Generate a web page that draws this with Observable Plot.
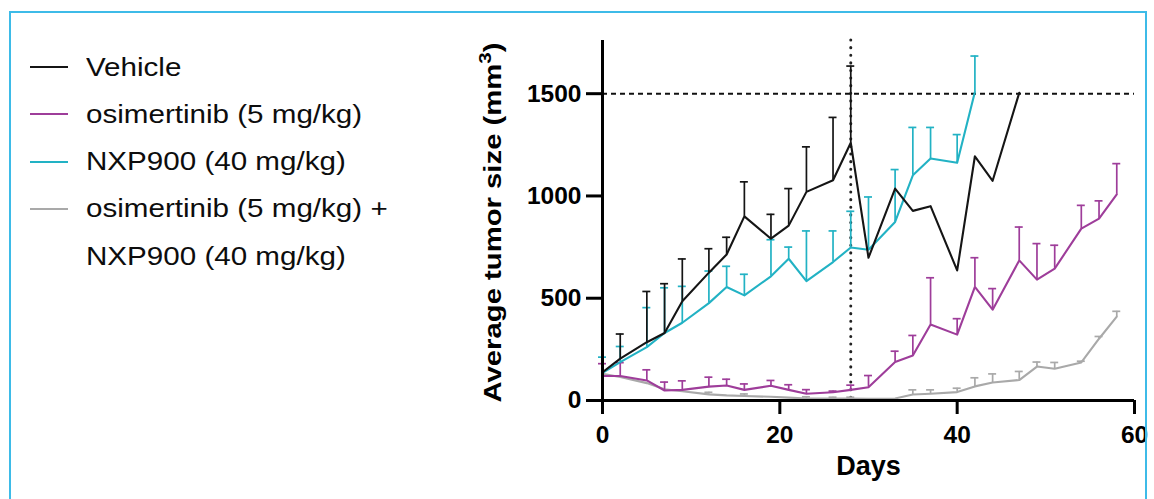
<!DOCTYPE html>
<html>
<head>
<meta charset="utf-8">
<script src="https://cdn.jsdelivr.net/npm/d3@7"></script>
<script src="https://cdn.jsdelivr.net/npm/@observablehq/plot@0.6"></script>
<style>
  html, body { margin: 0; padding: 0; background: #fff; }
  #wrap { position: relative; width: 1154px; height: 499px; overflow: hidden; background: #fff; }
  #chart { position: absolute; left: 0; top: 0; }
  #frame { position: absolute; left: 9px; top: 11px; width: 1138px; height: 520px; border: 2px solid #3dbbe8; box-sizing: border-box; pointer-events: none; }
  .row { position: absolute; left: 30px; height: 30px; display: flex; align-items: center; font-family: Arial, "Liberation Sans", sans-serif; font-size: 25.5px; color: #0d0d0d; white-space: nowrap; }
  .sw { width: 38px; height: 2px; margin-right: 18px; flex: none; }
  .lbl { display: inline-block; transform: scaleX(1.16); transform-origin: left center; }
</style>
</head>
<body>
<div id="wrap">
  <div id="chart"></div>
  <div id="legend"></div>
  <div id="frame"></div>
</div>
<script>
// ---- data ----
const days = [0, 2, 5, 7, 9, 12, 14, 16, 19, 21, 23, 26, 28, 30, 33, 35, 37, 40, 42, 44, 47, 49, 51, 54, 56, 58];

const seriesNames = ["Vehicle", "osimertinib (5 mg/kg)", "NXP900 (40 mg/kg)", "osimertinib (5 mg/kg) + NXP900 (40 mg/kg)"];
const seriesColors = ["#151515", "#9e3d9a", "#22b2c4", "#a9a9a9"];

const vehicleMean = [138, 205, 285, 330, 485, 625, 714, 900, 791, 855, 1020, 1077, 1260, 698, 1036, 927, 950, 636, 1194, 1074, 1504, null, null, null, null, null];
const vehicleTop  = [null, 325, 533, 571, 692, 742, 798, 1069, 910, 1036, 1240, 1384, 1635, null, null, null, null, null, null, null, null, null, null, null, null, null];

const osiMean = [120, 120, 98, 49, 52, 68, 73, 52, 72, 52, 33, 40, 52, 65, 188, 220, 372, 322, 555, 444, 685, 591, 645, 840, 889, 1008];
const osiTop  = [180, 185, 150, 90, 96, 114, 104, 81, 98, 77, 53, 46, 75, 122, 241, 318, 600, 400, 698, 547, 848, 767, 759, 954, 976, 1158];

const nxpMean = [135, 188, 261, 330, 380, 476, 555, 514, 607, 693, 584, 677, 748, 737, 873, 1101, 1183, 1162, 1508, null, null, null, null, null, null, null];
const nxpTop  = [212, 264, 454, 551, 558, 633, 656, 617, 786, 750, 829, 829, 925, 995, 1129, 1335, 1335, 1300, 1684, null, null, null, null, null, null, null];

const comboMean = [130, 115, 85, 55, 45, 30, 25, 22, 18, 14, 10, 10, 10, 8, 10, 29, 33, 41, 69, 88, 100, 166, 155, 186, 302, 410];
const comboTop  = [null, null, null, null, null, 40, null, 32, null, null, 18, 16, 16, null, null, 52, 52, 60, 111, 130, 142, 188, 186, 192, 313, 436];

const xTicks = [0, 20, 40, 60];
const yTicks = [0, 500, 1000, 1500];
const thresholdY = [1500];
const switchDay = [28];
const yLabel = "Average tumor size (mm³)";
const yLabelParts = ["Average tumor size (mm", "3", ")"];
const xLabel = "Days";

// ---- build table ----
const means = [vehicleMean, osiMean, nxpMean, comboMean];
const tops = [vehicleTop, osiTop, nxpTop, comboTop];
const rows = [];
seriesNames.forEach((s, i) => {
  days.forEach((d, j) => {
    if (means[i][j] != null) rows.push({series: s, day: d, mean: means[i][j], top: tops[i][j]});
  });
});
const drawOrder = [3, 1, 2, 0]; // combo, osi, nxp, vehicle on top
const marks = [];
marks.push(Plot.ruleY(thresholdY, {stroke: "#111", strokeWidth: 2, strokeDasharray: "5,4"}));
marks.push(Plot.ruleX(switchDay, {stroke: "#222", strokeWidth: 3, strokeDasharray: "0.1,7.5", strokeLinecap: "round"}));
for (const i of drawOrder) {
  const s = seriesNames[i];
  const data = rows.filter(r => r.series === s);
  const err = data.filter(r => r.top != null);
  marks.push(Plot.ruleX(err, {x: "day", y1: "mean", y2: "top", stroke: seriesColors[i], strokeWidth: 1.7}));
  marks.push(Plot.ruleY(err, {y: "top", x1: d => d.day - 0.45, x2: d => d.day + 0.45, stroke: seriesColors[i], strokeWidth: 1.7}));
  marks.push(Plot.line(data, {x: "day", y: "mean", stroke: seriesColors[i], strokeWidth: 2.1}));
}
marks.push(Plot.ruleX([0], {stroke: "#000", strokeWidth: 3}));
marks.push(Plot.ruleY([0], {stroke: "#000", strokeWidth: 3}));
marks.push(Plot.axisY({ticks: yTicks, tickSize: 16, tickPadding: 5, fontSize: 24.5, fontWeight: "bold", strokeWidth: 3, tickFormat: d3.format("d"), label: null}));
marks.push(Plot.axisX({ticks: xTicks, tickSize: 14, tickPadding: 11, fontSize: 24.5, fontWeight: "bold", strokeWidth: 3, tickFormat: d3.format("d"), label: null}));
marks.push(Plot.text([yLabel], {frameAnchor: "bottom-left", dx: -102, dy: 2, rotate: -90, textAnchor: "start", fontSize: 24.5, fontWeight: "bold", fill: "#000"}));
marks.push(Plot.text([xLabel], {frameAnchor: "bottom", dy: 74, fontSize: 27, fontWeight: "bold", fill: "#000"}));

const svg = Plot.plot({
  width: 1154,
  height: 499,
  marginLeft: 602,
  marginRight: 20,
  marginTop: 40,
  marginBottom: 99,
  x: {domain: [0, 60]},
  y: {domain: [0, 1760]},
  style: {fontFamily: "Arial, 'Liberation Sans', sans-serif", color: "#000", background: "transparent"},
  marks
});
document.getElementById("chart").appendChild(svg);
// real superscript in the y label
d3.select(svg).selectAll("text").filter(function () { return this.textContent === yLabel; })
  .each(function () {
    const t = d3.select(this);
    t.text(null);
    t.append("tspan").text(yLabelParts[0]);
    t.append("tspan").attr("dy", "-0.55em").attr("font-size", "0.7em").text(yLabelParts[1]);
    t.append("tspan").attr("dy", "0.385em").text(yLabelParts[2]);
    t.attr("textLength", 360).attr("lengthAdjust", "spacingAndGlyphs");
  });

// ---- legend ----
const legendLines = [["Vehicle"], ["osimertinib (5 mg/kg)"], ["NXP900 (40 mg/kg)"], ["osimertinib (5 mg/kg) +", "NXP900 (40 mg/kg)"]];
const legend = document.getElementById("legend");
let rowIdx = 0;
legendLines.forEach((lines, i) => {
  lines.forEach((t, k) => {
    const row = document.createElement("div");
    row.className = "row";
    row.style.top = (67 + rowIdx * 47.3 - 15) + "px";
    const sw = document.createElement("span");
    sw.className = "sw";
    sw.style.background = k === 0 ? seriesColors[i] : "transparent";
    const lb = document.createElement("span");
    lb.className = "lbl";
    lb.textContent = t;
    row.appendChild(sw);
    row.appendChild(lb);
    legend.appendChild(row);
    rowIdx++;
  });
});
</script>
</body>
</html>
